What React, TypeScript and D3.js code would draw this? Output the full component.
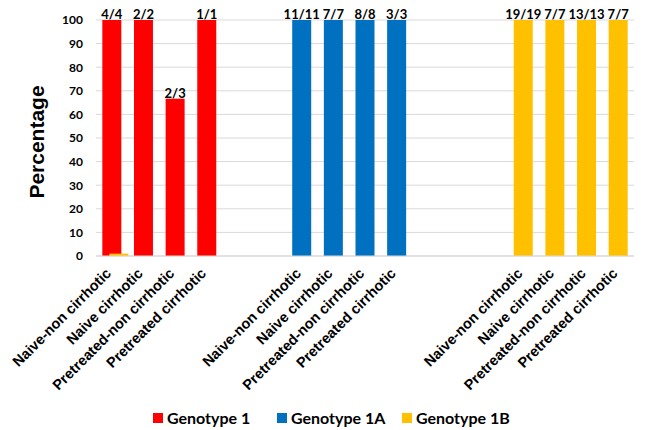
import React from "react";
import * as d3 from "d3";

// Patient subgroups, repeated for each genotype
const subgroups = [
  "Naive-non cirrhotic",
  "Naive cirrhotic",
  "Pretreated-non cirrhotic",
  "Pretreated cirrhotic",
];

const genotypes = ["Genotype 1", "Genotype 1A", "Genotype 1B"];
const genotypeColors = ["#FF0000", "#0070C0", "#FFC000"];

// Responders / totals per subgroup (percentage = responders / total)
const g1Responders = [4, 2, 2, 1];
const g1Totals = [4, 2, 3, 1];
const g1aResponders = [11, 7, 8, 3];
const g1aTotals = [11, 7, 8, 3];
const g1bResponders = [19, 7, 13, 7];
const g1bTotals = [19, 7, 13, 7];

// Tiny Genotype 1B sliver sitting in the first Genotype 1 slot
const straySliverValue = 1;

// Number of empty slots after each genotype block
const gapsAfter = [2, 3, 0];

const yTicks = [0, 10, 20, 30, 40, 50, 60, 70, 80, 90, 100];

const W = 646;
const H = 430;
const plotLeft = 96;
const plotRight = 634;
const plotTop = 20;
const plotBottom = 256;

type Bar = {
  slot: string;
  label: string;
  value: number;
  text: string;
  color: string;
};

const series = [
  { r: g1Responders, t: g1Totals },
  { r: g1aResponders, t: g1aTotals },
  { r: g1bResponders, t: g1bTotals },
];

const slots: string[] = [];
const bars: Bar[] = [];
series.forEach((s, gi) => {
  subgroups.forEach((sg, i) => {
    const slot = `${gi}-${i}`;
    slots.push(slot);
    bars.push({
      slot,
      label: sg,
      value: (s.r[i] / s.t[i]) * 100,
      text: `${s.r[i]}/${s.t[i]}`,
      color: genotypeColors[gi],
    });
  });
  for (let k = 0; k < gapsAfter[gi]; k++) slots.push(`gap-${gi}-${k}`);
});

export default function App() {
  const x = d3
    .scaleBand<string>()
    .domain(slots)
    .range([plotLeft, plotRight])
    .paddingInner(0.4)
    .paddingOuter(0.2);
  const y = d3.scaleLinear().domain([0, 100]).range([plotBottom, plotTop]);
  const bw = x.bandwidth();

  const labelFont = "Lato, 'Open Sans', sans-serif";
  const axisFont = "'Liberation Sans', Arial, sans-serif";

  const legendItems = [
    { x: 153, text: genotypes[0], color: genotypeColors[0] },
    { x: 277, text: genotypes[1], color: genotypeColors[1] },
    { x: 402, text: genotypes[2], color: genotypeColors[2] },
  ];

  return (
    <div style={{ position: "fixed", left: 0, top: 0 }}>
      <svg width={W} height={H} style={{ display: "block", background: "#fff" }}>
        {/* gridlines */}
        {yTicks.map((t) => (
          <line
            key={`g${t}`}
            x1={plotLeft}
            x2={plotRight}
            y1={y(t)}
            y2={y(t)}
            stroke="#D9D9D9"
            strokeWidth={1}
          />
        ))}
        {/* y tick labels */}
        {yTicks.map((t) => (
          <text
            key={`t${t}`}
            x={83}
            y={y(t)}
            dy="0.36em"
            textAnchor="end"
            fontFamily={labelFont}
            fontWeight={700}
            fontSize={12}
            fill="#000"
          >
            {t}
          </text>
        ))}
        {/* y axis title */}
        <text
          transform={`translate(44,${(plotTop + plotBottom) / 2 + 4}) rotate(-90)`}
          textAnchor="middle"
          fontFamily={axisFont}
          fontWeight={700}
          fontSize={21}
          fill="#000"
        >
          Percentage
        </text>

        {/* bars */}
        {bars.map((b) => (
          <rect
            key={b.slot}
            x={x(b.slot)!}
            y={y(b.value)}
            width={bw}
            height={y(0) - y(b.value)}
            fill={b.color}
          />
        ))}
        {/* sliver */}
        <rect
          x={x(slots[0])! + bw * 0.37}
          y={y(straySliverValue)}
          width={bw}
          height={y(0) - y(straySliverValue)}
          fill={genotypeColors[2]}
        />

        {/* baseline */}
        <line
          x1={plotLeft}
          x2={plotRight}
          y1={y(0)}
          y2={y(0)}
          stroke="#D9D9D9"
          strokeWidth={1}
        />

        {/* value labels */}
        {bars.map((b) => (
          <text
            key={`v${b.slot}`}
            x={x(b.slot)! + bw / 2}
            y={y(b.value) - 1}
            textAnchor="middle"
            fontFamily={labelFont}
            fontWeight={700}
            fontSize={13}
            fill="#000"
          >
            {b.text}
          </text>
        ))}

        {/* category labels */}
        {bars.map((b) => (
          <text
            key={`c${b.slot}`}
            transform={`translate(${x(b.slot)! + bw / 2 - 7},${plotBottom + 11}) rotate(-45)`}
            textAnchor="end"
            dy="0.7em"
            fontFamily={axisFont}
            fontWeight={700}
            fontSize={14.5}
            fill="#000"
          >
            {b.label}
          </text>
        ))}

        {/* legend */}
        {legendItems.map((l) => (
          <g key={l.text}>
            <rect x={l.x} y={413} width={10} height={10} fill={l.color} />
            <text
              x={l.x + 14}
              y={418}
              dy="0.36em"
              fontFamily={labelFont}
              fontWeight={700}
              fontSize={16}
              fill="#000"
            >
              {l.text}
            </text>
          </g>
        ))}
      </svg>
    </div>
  );
}
